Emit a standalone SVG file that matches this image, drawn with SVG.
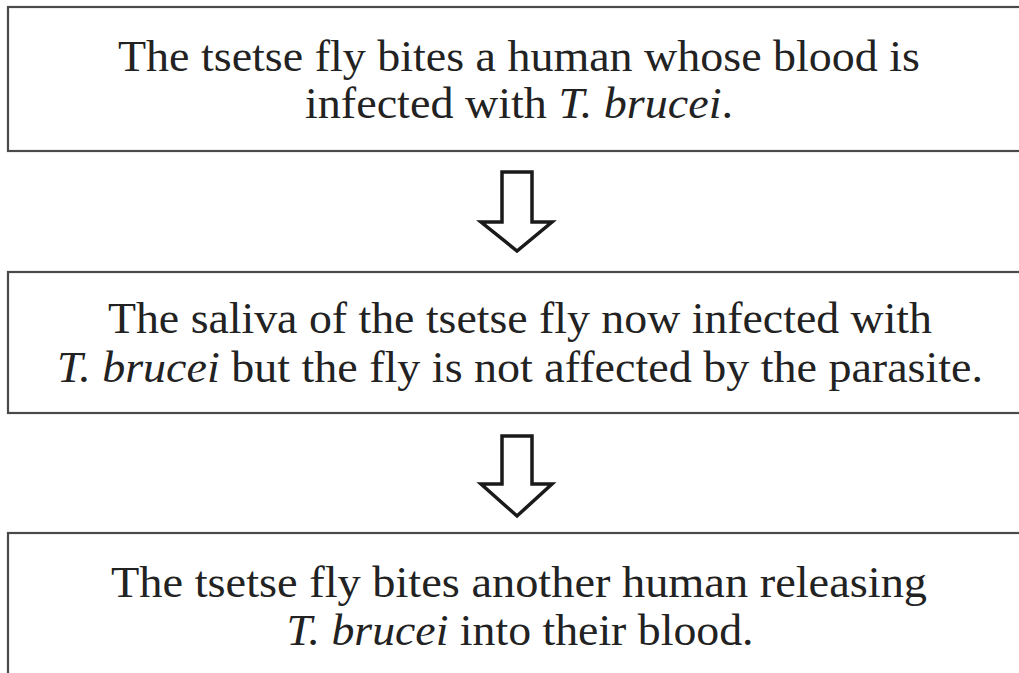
<svg xmlns="http://www.w3.org/2000/svg" width="1019" height="673" viewBox="0 0 1019 673">
<defs>
<style>
.box{fill:#fff;stroke:#4a4a4a;stroke-width:2.2}
.t{font-family:"Liberation Serif","Times New Roman",serif;font-size:45px;fill:#222;text-anchor:middle}
.i{font-style:italic}
.arrow{fill:#fff;stroke:#1a1a1a;stroke-width:3.5;stroke-linejoin:miter}
</style>
</defs>
<rect width="1019" height="673" fill="#fff"/>
<g id="node1">
<rect class="box" x="8" y="7" width="1030" height="144"/>
<text class="t" x="519" y="71" textLength="802" lengthAdjust="spacingAndGlyphs">The tsetse fly bites a human whose blood is</text>
<text class="t" x="519" y="118" textLength="428" lengthAdjust="spacingAndGlyphs">infected with <tspan class="i">T. brucei</tspan>.</text>
</g>
<g id="node2">
<rect class="box" x="8" y="272" width="1030" height="141"/>
<text class="t" x="520" y="333" textLength="824" lengthAdjust="spacingAndGlyphs">The saliva of the tsetse fly now infected with</text>
<text class="t" x="520" y="382" textLength="926" lengthAdjust="spacingAndGlyphs"><tspan class="i">T. brucei</tspan> but the fly is not affected by the parasite.</text>
</g>
<g id="node3">
<rect class="box" x="8" y="533" width="1030" height="160"/>
<text class="t" x="519" y="597" textLength="816" lengthAdjust="spacingAndGlyphs">The tsetse fly bites another human releasing</text>
<text class="t" x="520" y="645" textLength="467" lengthAdjust="spacingAndGlyphs"><tspan class="i">T. brucei</tspan> into their blood.</text>
</g>
<g id="connectors">
<path class="arrow" d="M502,172 L532,172 L532,222 L552,222 L517,251 L481,222 L502,222 Z"/>
<path class="arrow" d="M502,436 L532,436 L532,484 L552,484 L517,516 L481,484 L502,484 Z"/>
</g>
</svg>
